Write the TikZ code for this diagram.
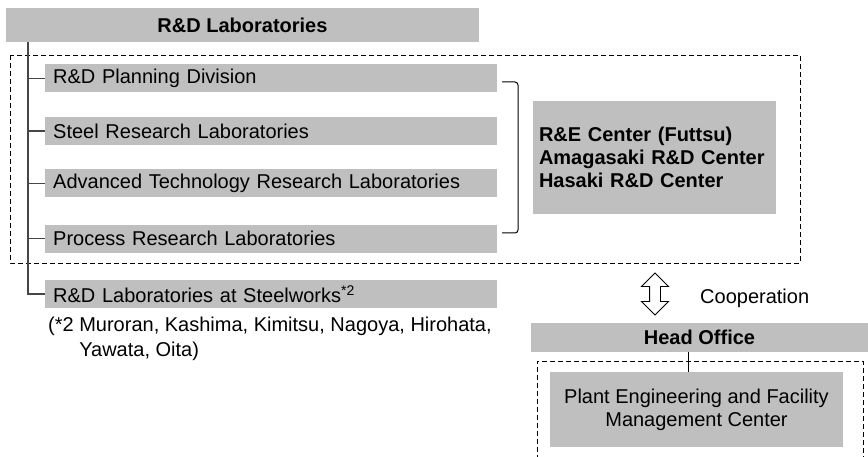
\documentclass[tikz,border=0pt]{standalone}
\usepackage{fontspec}
\setmainfont{Liberation Sans}
\usetikzlibrary{shapes.arrows,positioning}
\definecolor{boxgray}{RGB}{191,191,191}
\definecolor{linegray}{RGB}{70,70,70}

\begin{document}
\begin{tikzpicture}[x=1pt,y=-1pt,font=\fontsize{20}{23}\selectfont]
		\tikzstyle{row}=[rectangle, fill=boxgray, minimum height=28pt, text width=436pt, inner xsep=8pt, inner ysep=0pt, align=left, anchor=west]
		\tikzstyle{head}=[rectangle, fill=boxgray, inner sep=0pt, font=\fontsize{20}{23}\selectfont\bfseries]
		\tikzstyle{trunk}=[line width=2pt, draw=linegray]
		\tikzstyle{connect}=[line width=1.3pt, draw=linegray]
		\tikzstyle{group}=[draw=black, line width=0.9pt, dash pattern=on 5pt off 3pt]
		\useasboundingbox (0,0) rectangle (868,457);
		
		\node[head, minimum width=473pt, minimum height=34pt] (lab) at (242.5,25) {R\&D Laboratories};
		
		\node[row]                   (plan)  at (45,78.5) {R\&D Planning Division};
		\node[row, below=24pt of plan.south west, anchor=north west]  (steel) {Steel Research Laboratories};
		\node[row, below=24pt of steel.south west, anchor=north west] (adv)   {Advanced Technology Research Laboratories};
		\node[row, below=27pt of adv.south west, anchor=north west]   (proc)  {Process Research Laboratories};
		\node[row, below=27pt of proc.south west, anchor=north west]  (works) {R\&D Laboratories at Steelworks\textsuperscript{*2}};
		
		\node[anchor=north west, inner sep=0pt, align=left, font=\fontsize{20}{25}\selectfont] (note) at (48,317)
			{(*2 Muroran, Kashima, Kimitsu, Nagoya, Hirohata,\\\phantom{(*2 }Yawata, Oita)};
		
		\node[rectangle, fill=boxgray, minimum width=243pt, minimum height=113pt, text width=231pt, inner xsep=6pt, align=left, font=\fontsize{20}{23}\selectfont\bfseries] (center) at (654.5,157.5)
			{R\&E Center (Futtsu)\\Amagasaki R\&D Center\\Hasaki R\&D Center};
		
		\node[double arrow, draw=black, fill=white, line width=0.9pt, rotate=90, minimum height=42pt, inner sep=5pt, double arrow head extend=8pt] (coop) at (655,294) {};
		\node[anchor=west, inner sep=0pt] (cooptext) at (700,298) {Cooperation};
		
		\node[head, minimum width=337pt, minimum height=29pt] (office) at (699.5,337.5) {Head Office};
		\node[rectangle, fill=boxgray, minimum width=293pt, minimum height=75pt, align=center] (plant) at (696.5,409.5)
			{Plant Engineering and Facility\\Management Center};
		
		% dashed groups
		\draw[group] (10,55) rectangle (800,263);
		\draw[group] (537,460) -- (537,361) -- (863,361) -- (863,460);
		
		% organisation lines
		\coordinate (top) at (28,42);
		\draw[trunk] (top) |- (works.west);
		\path 
		(plan.west -| top)  edge [connect] (plan.west)
		(steel.west -| top) edge [connect] (steel.west)
		(adv.west -| top)   edge [connect] (adv.west)
		(proc.west -| top)  edge [connect] (proc.west)
		;
		\coordinate (office-x) at (688,0);
		\draw[connect, line width=0.9pt, draw=black] (office.south -| office-x) -- (plant.north -| office-x);
		
		% bracket
		\coordinate (b1) at (502,82);
		\coordinate (b2) at (502,233);
		\draw[line width=1pt, rounded corners=3pt] (b1) -- ++(16,0) |- (b2);
\end{tikzpicture}
\end{document}
